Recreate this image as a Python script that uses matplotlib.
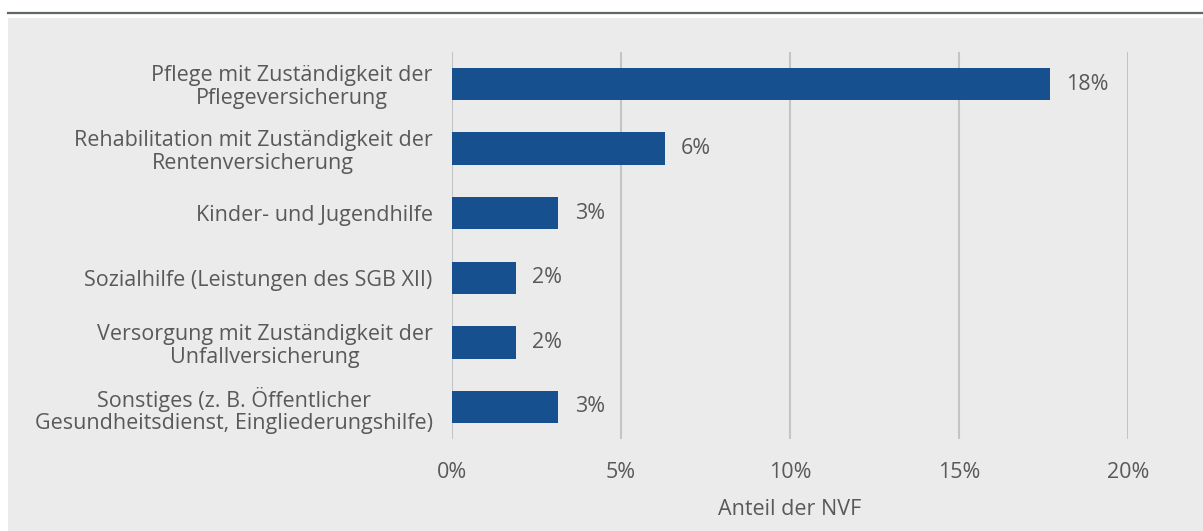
import matplotlib
matplotlib.use("Agg")
import matplotlib.pyplot as plt
from matplotlib.patches import Rectangle
from matplotlib.lines import Line2D

# Daten
kategorien = [
    "Pflege mit Zuständigkeit der\nPflegeversicherung",
    "Rehabilitation mit Zuständigkeit der\nRentenversicherung",
    "Kinder- und Jugendhilfe",
    "Sozialhilfe (Leistungen des SGB XII)",
    "Versorgung mit Zuständigkeit der\nUnfallversicherung",
    "Sonstiges (z. B. Öffentlicher\nGesundheitsdienst, Eingliederungshilfe)",
]
werte = [17.7, 6.3, 3.15, 1.9, 1.9, 3.15]
beschriftungen = ["18%", "6%", "3%", "2%", "2%", "3%"]
x_ticks = [0, 5, 10, 15, 20]
x_tick_labels = ["0%", "5%", "10%", "15%", "20%"]

plt.rcParams["font.family"] = ["Open Sans", "DejaVu Sans"]
text_farbe = "#595959"
balken_farbe = "#17508e"
hintergrund = "#ebebeb"
fs = 15.5

fig = plt.figure(figsize=(12.03, 5.31), dpi=100)
fig.patch.set_facecolor("white")

# Grauer Hintergrund und Linie oben
fig.add_artist(Rectangle((8 / 1203, 0), 1, 1 - 18 / 531, transform=fig.transFigure,
                         facecolor=hintergrund, edgecolor="none", zorder=-10))
fig.add_artist(Line2D([8 / 1203, 1], [1 - 12.5 / 531] * 2, transform=fig.transFigure,
                      color="#636669", linewidth=1.6))

ax = fig.add_axes([452 / 1203, 1 - 439.3 / 531, (1128 - 452) / 1203, (439.3 - 51.7) / 531])
ax.set_facecolor("none")

y = list(range(len(kategorien)))
ax.barh(y, werte, height=0.5, color=balken_farbe, zorder=3)

for yi, w, lab in zip(y, werte, beschriftungen):
    ax.text(w + 0.48, yi, lab, va="center", ha="left", fontsize=fs, color=text_farbe)

ax.set_xlim(0, 20)
ax.set_ylim(len(kategorien) - 0.5, -0.5)
ax.set_xticks(x_ticks)
ax.set_xticklabels(x_tick_labels)
ax.set_yticks(y)
ax.set_yticklabels(kategorien, multialignment="center", linespacing=1.12)
ax.tick_params(axis="both", length=0, labelsize=fs, colors=text_farbe)
ax.tick_params(axis="y", pad=14)
ax.tick_params(axis="x", pad=16)

ax.grid(axis="x", color="#c2c4c6", linewidth=1.5, zorder=0)
for s in ax.spines.values():
    s.set_visible(False)

ax.set_xlabel("Anteil der NVF", fontsize=fs, color=text_farbe, labelpad=12)

plt.savefig("out.png", dpi=100, facecolor=fig.get_facecolor())
